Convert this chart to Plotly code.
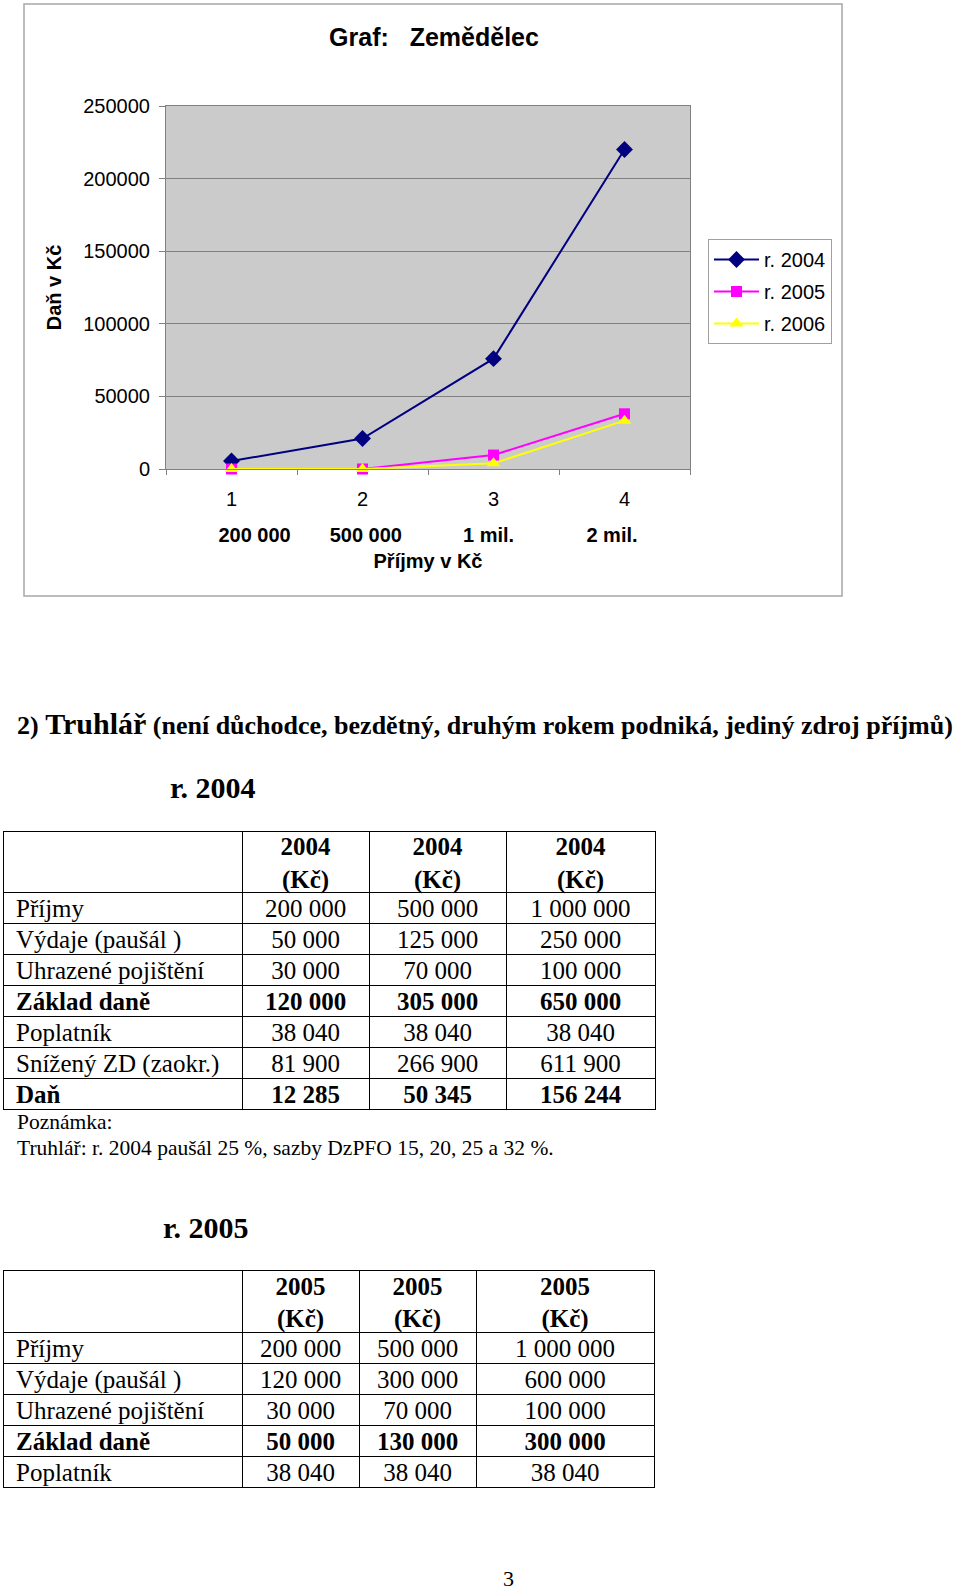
"""Zemědělec tax chart + Truhlář tables (page 3)."""

import plotly.graph_objects as go

# --- chart data ---
categories = ["1", "2", "3", "4"]
income_labels = ["200 000", "500 000", "1 mil.", "2 mil."]
tax_2004 = [5500, 21000, 76000, 220000]
tax_2005 = [0, 0, 9600, 38000]
tax_2006 = [0, 0, 3900, 33300]
y_ticks = [0, 50000, 100000, 150000, 200000, 250000]

# --- table data ---
headers_2004 = ["2004", "2004", "2004"]
labels_2004 = ["Příjmy", "Výdaje (paušál )", "Uhrazené pojištění", "Základ daně",
               "Poplatník", "Snížený ZD (zaokr.)", "Daň"]
income_2004 = ["200 000", "50 000", "30 000", "120 000", "38 040", "81 900", "12 285"]
mid_2004 = ["500 000", "125 000", "70 000", "305 000", "38 040", "266 900", "50 345"]
high_2004 = ["1 000 000", "250 000", "100 000", "650 000", "38 040", "611 900", "156 244"]

headers_2005 = ["2005", "2005", "2005"]
labels_2005 = ["Příjmy", "Výdaje (paušál )", "Uhrazené pojištění", "Základ daně", "Poplatník"]
income_2005 = ["200 000", "120 000", "30 000", "50 000", "38 040"]
mid_2005 = ["500 000", "300 000", "70 000", "130 000", "38 040"]
high_2005 = ["1 000 000", "600 000", "100 000", "300 000", "38 040"]

bold_labels = {"Základ daně", "Daň"}

W, H = 960, 1590
SANS = "Liberation Sans"
SERIF = "Liberation Serif"
NB = "\u00a0"


def px(x):
    return x / W


def py(y):
    return 1 - y / H


fig = go.Figure()

series = [
    ("r. 2004", tax_2004, "#000080", "diamond", 13),
    ("r. 2005", tax_2005, "#ff00ff", "square", 11),
    ("r. 2006", tax_2006, "#ffff00", "triangle-up", 12),
]
for name, vals, color, symbol, size in series:
    fig.add_trace(go.Scatter(
        x=categories, y=vals, name=name, legendgroup=name, mode="lines+markers",
        line=dict(color=color, width=2), cliponaxis=False,
        marker=dict(symbol=symbol, size=size, color=color),
    ))

gaps = [7, 11, 13]
line1 = income_labels[0]
for g, lab in zip(gaps, income_labels[1:]):
    line1 += NB * g + lab
x_title = f"<b>{line1}<br>Příjmy v Kč</b>"


def add_table(fig, n, left, top, col_widths, header_h, row_h, headers, labels, cols):
    xs = [0]
    for w in col_widths:
        xs.append(xs[-1] + w)
    total_h = header_h + row_h * len(labels)
    ys = [0] + [header_h + i * row_h for i in range(len(labels) + 1)]
    ax = dict(showticklabels=False, ticks="", showgrid=True, gridcolor="black", gridwidth=1,
              zeroline=False, showline=True, mirror=True, linecolor="black", linewidth=1,
              fixedrange=True)
    fig.layout[f"xaxis{n}"] = dict(ax, domain=[px(left), px(left + xs[-1])],
                                   range=[0, xs[-1]], tickvals=xs[1:-1], anchor=f"y{n}")
    fig.layout[f"yaxis{n}"] = dict(ax, domain=[py(top + total_h), py(top)],
                                   range=[total_h, 0], tickvals=ys[1:-1], anchor=f"x{n}")
    centres = [(xs[i] + xs[i + 1]) / 2 for i in range(len(xs) - 1)]
    dy = 3  # text sits a touch low in its cell
    row_y = [header_h + (i + 0.5) * row_h + dy for i in range(len(labels))]

    def fmt(t, lab):
        return f"<b>{t}</b>" if lab in bold_labels else t

    fig.add_trace(go.Scatter(
        x=[12] * len(labels), y=row_y, text=[fmt(l, l) for l in labels],
        mode="text", textposition="middle right",
        textfont=dict(family=SERIF, size=25, color="black"),
        xaxis=f"x{n}", yaxis=f"y{n}", showlegend=False, hoverinfo="skip"))
    tx, ty, tt = [], [], []
    for j, col in enumerate(cols):
        tx.append(centres[j + 1])
        ty.append(header_h / 2 + dy)
        tt.append(f"<b>{headers[j]}<br>(Kč)</b>")
        for i, v in enumerate(col):
            tx.append(centres[j + 1])
            ty.append(row_y[i])
            tt.append(fmt(v, labels[i]))
    fig.add_trace(go.Scatter(
        x=tx, y=ty, text=tt, mode="text", textposition="middle center",
        textfont=dict(family=SERIF, size=25, color="black"),
        xaxis=f"x{n}", yaxis=f"y{n}", showlegend=False, hoverinfo="skip"))


add_table(fig, 2, 4, 832, [238, 127, 137, 149], 60, 31,
          headers_2004, labels_2004, [income_2004, mid_2004, high_2004])
add_table(fig, 3, 4, 1271, [238, 117, 117, 178], 61, 31,
          headers_2005, labels_2005, [income_2005, mid_2005, high_2005])

fig.update_layout(
    width=W, height=H,
    margin=dict(l=0, r=0, t=0, b=0),
    paper_bgcolor="white",
    plot_bgcolor="white",
    font=dict(family=SANS, size=20, color="black"),
    title=dict(text="<b>Graf:" + NB * 3 + "Zemědělec</b>", x=px(434), y=py(37),
               xanchor="center", yanchor="middle", font=dict(size=25)),
    xaxis=dict(domain=[px(166), px(690)], type="category", range=[-0.5, 3.5],
               tickson="boundaries", ticks="outside", ticklen=5, tickcolor="#808080",
               showline=True, mirror=True, linecolor="#808080", showgrid=False,
               automargin=False, ticklabelstandoff=12,
               title=dict(text=x_title, standoff=18, font=dict(size=20))),
    yaxis=dict(domain=[py(469), py(106)], range=[0, 250000], tickvals=y_ticks,
               tickformat="d", ticks="outside", ticklen=6, tickcolor="#808080",
               showline=True, mirror=True, linecolor="#808080", gridcolor="#808080",
               zeroline=False, automargin=False, ticklabelstandoff=5,
               title=dict(text="<b>Daň v Kč</b>", standoff=16, font=dict(size=20))),
    legend=dict(x=px(708), y=py(239), xanchor="left", yanchor="top",
                bordercolor="#a0a0a0", borderwidth=1, bgcolor="white",
                font=dict(size=20), itemwidth=45, tracegroupgap=3),
    shapes=[
        dict(type="rect", xref="x domain", yref="y domain", x0=0, x1=1, y0=0, y1=1,
             fillcolor="#cbcbcb", line=dict(width=0), layer="below"),
        dict(type="rect", xref="paper", yref="paper", x0=px(24), x1=px(842),
             y0=py(596), y1=py(4), line=dict(color="#a6a6a6", width=1.5)),
    ],
)

texts = [
    ("<b>2) <span style='font-size:30px'>Truhlář</span> (není důchodce, bezdětný, druhým rokem "
     "podniká, jediný zdroj příjmů)</b>", 15, 723, 26, "left"),
    ("<b>r. 2004</b>", 168, 787, 30, "left"),
    ("Poznámka:", 15, 1122, 21.5, "left"),
    ("Truhlář: r. 2004 paušál 25 %, sazby DzPFO 15, 20, 25 a 32 %.", 15, 1148, 21.5, "left"),
    ("<b>r. 2005</b>", 161, 1227, 30, "left"),
    ("3", 509, 1578, 22, "center"),
]
for text, x, y, size, anchor in texts:
    fig.add_annotation(text=text, x=px(x), y=py(y), xref="paper", yref="paper",
                       xanchor=anchor, yanchor="middle", showarrow=False,
                       font=dict(family=SERIF, size=size, color="black"))

fig.write_html("out.html", config={"displayModeBar": False},
               post_script="document.body.style.margin='0';")
